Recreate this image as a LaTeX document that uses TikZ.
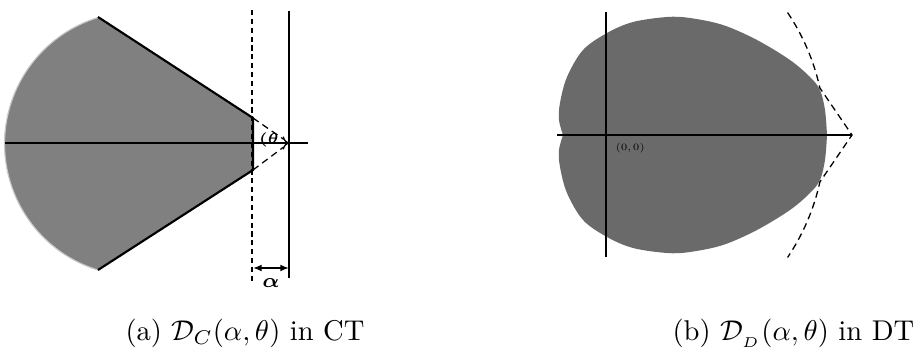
\documentclass[tikz,border=0pt]{standalone}
\usepackage{amsmath,bm}
\usepackage{tikz}
\usetikzlibrary{arrows.meta,calc}
\definecolor{ConeGray}{HTML}{808080}
\definecolor{BlobGray}{HTML}{6A6A6A}
\definecolor{RimGray}{HTML}{C8C8C8}
\tikzset{
  figaxis/.style={line width=0.45pt, draw=black},
  figedge/.style={line width=0.75pt, draw=black},
  figwall/.style={line width=0.85pt, draw=black},
  figguide/.style={line width=0.5pt, draw=black, dash pattern=on 1.8pt off 1.3pt},
  figcone/.style={line width=0.45pt, draw=black, dash pattern=on 2.4pt off 1.6pt},
  figrim/.style={line width=0.4pt, draw=RimGray},
  figtiny/.style={font=\fontsize{3.4}{4}\selectfont, inner sep=0pt},
  figsmall/.style={font=\fontsize{5.5}{6}\selectfont, inner sep=0pt},
  figcaption/.style={font=\normalsize, anchor=base west, inner sep=0pt}
}
\begin{document}
\begin{tikzpicture}[x=0.35pt, y=-0.35pt]
\useasboundingbox (0,0) rectangle (923,353);
% (a) continuous time
\coordinate (ctop) at (98,17);
\coordinate (cbot) at (98,270);
\coordinate (cnw) at (253,118);
\coordinate (csw) at (253,170);
\coordinate (apex) at (289,143);
\fill[ConeGray] (ctop) -- (cnw) -- (csw) -- (cbot) arc[start angle=107, end angle=253, radius=132] -- cycle;
\draw[figrim] (cbot) arc[start angle=107, end angle=253, radius=132];
\draw[figedge] (ctop) -- (cnw) -- (csw) -- (cbot);
\draw[figaxis, -{To[length=2.2pt]}] (5,143) coordinate (aleft) -- (apex);
\draw[figaxis] (apex) -- (308,143) coordinate (aright);
\draw[figguide] (252,10) coordinate (dtop) -- (252,282) coordinate (dbot);
\draw[figwall] (289,11) coordinate (wtop) -- (289,278) coordinate (wbot);
\draw[figcone] (cnw) -- ($(cnw)!0.85!(apex)$);
\draw[figcone] (csw) -- ($(csw)!0.85!(apex)$);
\node[figsmall] (thetalab) at (269,140) {$\bm{(\theta}$};
\draw[line width=0.7pt, {Latex[length=3pt,width=2.4pt]}-{Latex[length=3pt,width=2.4pt]}] (253,268) coordinate (ga) -- (289,268) coordinate (gb);
\node[figsmall, font=\fontsize{7}{8}\selectfont] (alphalab) at (271,283) {$\bm{\alpha}$};
% (b) discrete time
\coordinate (o) at (606,135);
\coordinate (tip) at (852,135);
\fill[BlobGray] plot[smooth, tension=0.55] coordinates {(563,135) (559,120) (560,103) (567,77) (583,50) (607,33) (633,22) (667,17) (690,18) (723,25) (757,40) (790,60) (810,77) (820,90) (825,110) (827,135)}
  -- plot[smooth, tension=0.55] coordinates {(827,135) (825,160) (820,180) (810,193) (790,210) (757,230) (723,245) (690,252) (667,253) (633,248) (607,237) (583,220) (567,193) (560,167) (559,150) (563,135)} -- cycle;
\draw[figaxis] (557,135) coordinate (bleft) -- (tip);
\draw[figaxis] (606,12) coordinate (btop) -- (606,257) coordinate (bbot);
\node[figtiny, anchor=north west] (orig) at (615,143) {(0,\,0)};
\draw[figcone] ($(o)+(-34:219)$) arc[start angle=-34, end angle=-12.4, radius=219] -- (tip)
  -- ($(o)+(12.4:219)$) arc[start angle=12.4, end angle=34, radius=219];
% captions
\node[figcaption] (capa) at (125,340) {(a) $\mathcal{D}_C(\alpha,\theta)$ in CT};
\node[figcaption] (capb) at (672,340) {(b) $\mathcal{D}_{_D}(\alpha,\theta)$ in DT};
\end{tikzpicture}
\end{document}
